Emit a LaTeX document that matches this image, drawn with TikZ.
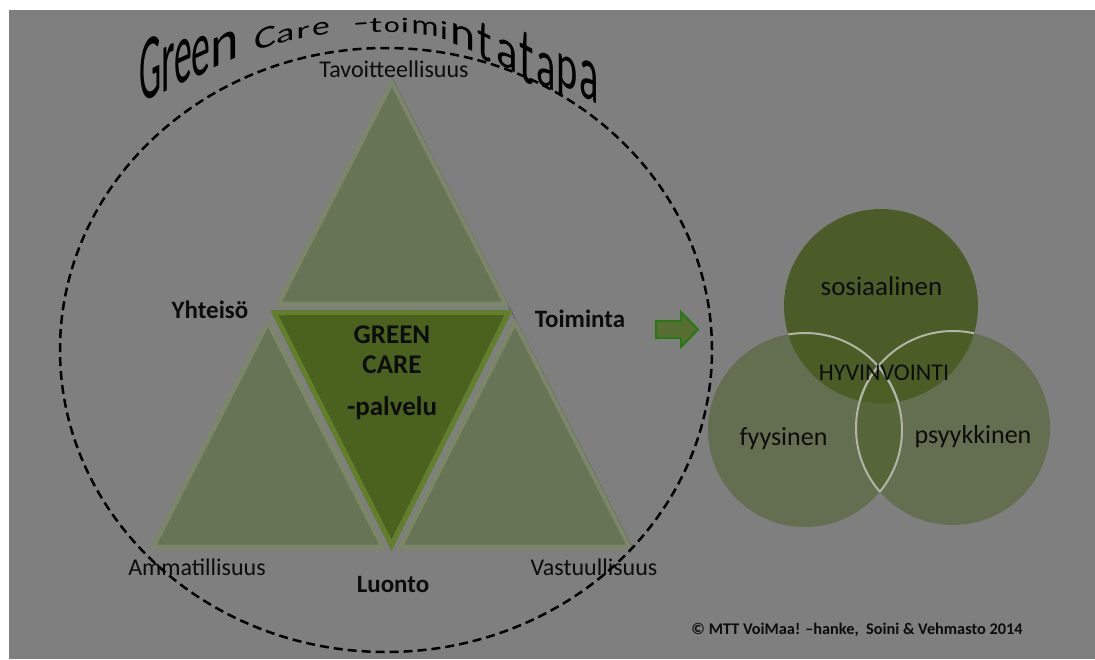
\documentclass[tikz,border=0pt]{standalone}
\usepackage{fontspec}
\setmainfont{Carlito}
\usetikzlibrary{calc}
\definecolor{bggray}{RGB}{127,127,127}
\definecolor{trilight}{RGB}{104,116,86}
\definecolor{tribevel}{RGB}{124,134,104}
\definecolor{tridark}{RGB}{74,98,30}
\definecolor{tridarkbevel}{RGB}{98,128,44}
\definecolor{sosfill}{RGB}{76,92,40}
\definecolor{venfill}{RGB}{75,95,35}
\definecolor{arrowfill}{RGB}{88,110,50}
\definecolor{arrowline}{RGB}{40,120,20}
\definecolor{txt}{RGB}{12,12,12}
\definecolor{vline}{RGB}{178,180,170}
\definecolor{shadowgray}{RGB}{92,92,92}

\newcommand{\tletter}[7]{%
  \begin{scope}[shift={(#3,#4)}]
    \node[titlechar, yslant=#5, xscale=0.9*#6, yscale=#7] (#1) at (0,0) {#2};
  \end{scope}}

\begin{document}
\begin{tikzpicture}[x=1pt,y=-1pt,
  titlechar/.style={anchor=base, inner sep=0pt, outer sep=0pt, transform shape, text=black, font=\fontsize{10}{12}\selectfont},
  lbl/.style={anchor=base, inner sep=0pt, text=txt, font=\fontsize{24}{28}\selectfont},
  lblb/.style={anchor=base, inner sep=0pt, text=txt, font=\fontsize{25}{28}\selectfont\bfseries},
  gcb/.style={anchor=base, inner sep=0pt, text=txt, font=\fontsize{27}{30}\selectfont\bfseries},
  vlbl/.style={anchor=base, inner sep=0pt, text=txt, font=\fontsize{26}{30}\selectfont},
  venn/.style={circle, inner sep=0pt, minimum size=194pt},
  vennline/.style={draw=vline, line width=2pt},
  dashline/.style={draw=black, line width=2.5pt, dash pattern=on 9pt off 5pt},
  arrowshape/.style={fill=arrowfill, draw=arrowline, line width=2pt, line join=miter}
]
\useasboundingbox (0,0) rectangle (1095,659);
\fill[white] (0,0) rectangle (1095,659);
\fill[bggray] (9,10) rectangle (1095,659);

% ---- triangles ----
\coordinate (ta) at (392,78);  \coordinate (tb) at (275,306); \coordinate (tc) at (509,306); \coordinate (ti) at (392,234.5);
\coordinate (la) at (268,318); \coordinate (lb) at (150,549); \coordinate (lc) at (386,549); \coordinate (li) at (268,476.8);
\coordinate (ra) at (515,318); \coordinate (rb) at (397,549); \coordinate (rc) at (633,549); \coordinate (ri) at (515,476.8);
\coordinate (ca) at (270,310); \coordinate (cb) at (513,310); \coordinate (cc) at (391.5,551); \coordinate (ci) at (391.5,384.8);

\draw[shadowgray, line width=0.8pt] (ta) -- (rc);

\foreach \p in {t,l,r}{
  \fill[tribevel] (\p a) -- (\p b) -- (\p c) -- cycle;
  \fill[trilight] ($(\p i)!0.94!(\p a)$) -- ($(\p i)!0.94!(\p b)$) -- ($(\p i)!0.94!(\p c)$) -- cycle;
}
\fill[tridarkbevel] (ca) -- (cb) -- (cc) -- cycle;
\fill[tridark] ($(ci)!0.93!(ca)$) -- ($(ci)!0.93!(cb)$) -- ($(ci)!0.93!(cc)$) -- cycle;

% ---- labels of the triangle ----
\node[lbl] (tav) at (394,77) {Tavoitteellisuus};
\node[lblb] (yht) at (210,318) {Yhteisö};
\node[lblb] (toi) at (580,327) {Toiminta};
\node[lbl] (amm) at (197,575) {Ammatillisuus};
\node[lblb] (luo) at (393,592) {Luonto};
\node[lbl] (vas) at (594,575) {Vastuullisuus};
\node[gcb] (g1) at (392,343) {GREEN};
\node[gcb] (g2) at (392,373) {CARE};
\node[gcb] (g3) at (392,415) {-palvelu};

% ---- dashed ellipse ----
\draw[dashline] (386,350) ellipse [x radius=326pt, y radius=302pt];

% ---- arrow ----
\draw[arrowshape] (656,321) -- (681,321) -- (681,312) -- (698,329.5) -- (681,347) -- (681,338) -- (656,338) -- cycle;

% ---- venn ----
\node[venn, fill=sosfill] (sos) at (881,306) {};
\node[venn, fill=venfill, fill opacity=0.5] (fyy) at (805,430) {};
\node[venn, fill=venfill, fill opacity=0.5] (psy) at (953,428) {};
\begin{scope}
  \clip (881,306) circle [radius=97pt];
  \draw[vennline] (805,430) circle [radius=97pt];
  \draw[vennline] (953,428) circle [radius=97pt];
\end{scope}
\begin{scope}
  \clip (953,428) circle [radius=97pt];
  \draw[vennline] (805,430) circle [radius=97pt];
\end{scope}
\begin{scope}
  \clip (805,430) circle [radius=97pt];
  \draw[vennline] (953,428) circle [radius=97pt];
\end{scope}
\node[vlbl, font=\fontsize{27}{30}\selectfont] (sostxt) at (881.5,295) {sosiaalinen};
\node[vlbl, font=\fontsize{24}{28}\selectfont] (hyv) at (884,380) {HYVINVOINTI};
\node[vlbl] (fyytxt) at (783.5,445) {fyysinen};
\node[vlbl] (psytxt) at (973,443) {psyykkinen};

\node[anchor=base, inner sep=0pt, text=txt, font=\fontsize{16.3}{19}\selectfont\bfseries] (copy) at (857,634) {© MTT VoiMaa! –hanke,\ \ Soini \& Vehmasto 2014};

% ---- arched title ----
\tletter{t1}{G}{151}{98}{0.47}{3.9}{9.3}
\tletter{t2}{r}{168}{90}{0.46}{4.3}{9.2}
\tletter{t3}{e}{183}{83}{0.45}{3.95}{8.8}
\tletter{t4}{e}{201}{75}{0.45}{4.2}{7.9}
\tletter{t5}{n}{225}{63}{0.45}{6.0}{6.0}
\tletter{t6}{C}{266}{48}{0.33}{4.6}{3.1}
\tletter{t7}{a}{286}{42}{0.27}{4.25}{2.6}
\tletter{t8}{r}{303}{38}{0.2}{4.3}{2.3}
\tletter{t9}{e}{321}{35}{0.15}{3.95}{2.6}
\tletter{t10}{-}{361}{31}{0.07}{5.2}{2.5}
\tletter{t11}{t}{376}{32}{0.02}{4.2}{2.2}
\tletter{t12}{o}{392}{32}{0}{3.3}{2.2}
\tletter{t13}{i}{405}{33}{-0.05}{4}{2.1}
\tletter{t14}{m}{425}{35}{-0.12}{3.8}{2.8}
\tletter{t15}{i}{444}{40}{-0.25}{4}{2.6}
\tletter{t16}{n}{463}{48}{-0.4}{5.3}{4.3}
\tletter{t17}{t}{485}{60}{-0.5}{4.8}{5.7}
\tletter{t18}{a}{507}{68}{-0.55}{5}{5.6}
\tletter{t19}{t}{527}{82}{-0.55}{4.8}{7.8}
\tletter{t20}{a}{546}{87}{-0.5}{4.5}{6.9}
\tletter{t21}{p}{567}{88}{-0.5}{4.5}{6.4}
\tletter{t22}{a}{589}{100}{-0.55}{4.5}{7.9}
\end{tikzpicture}
\end{document}
